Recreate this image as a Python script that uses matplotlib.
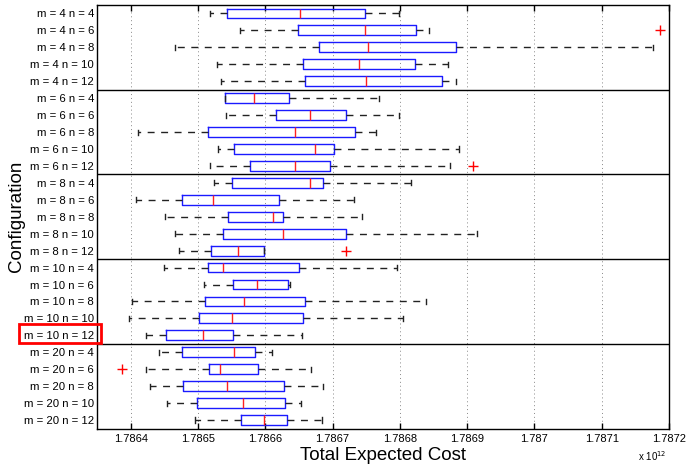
import matplotlib
matplotlib.use("Agg")
import matplotlib.pyplot as plt
from matplotlib.patches import Rectangle

plt.rcParams['font.family'] = ['Liberation Sans', 'DejaVu Sans']

labels = [
    "m = 4 n = 4", "m = 4 n = 6", "m = 4 n = 8", "m = 4 n = 10", "m = 4 n = 12",
    "m = 6 n = 4", "m = 6 n = 6", "m = 6 n = 8", "m = 6 n = 10", "m = 6 n = 12",
    "m = 8 n = 4", "m = 8 n = 6", "m = 8 n = 8", "m = 8 n = 10", "m = 8 n = 12",
    "m = 10 n = 4", "m = 10 n = 6", "m = 10 n = 8", "m = 10 n = 10", "m = 10 n = 12",
    "m = 20 n = 4", "m = 20 n = 6", "m = 20 n = 8", "m = 20 n = 10", "m = 20 n = 12",
]

# values in units of 1e12
whislo = [1.7865181, 1.7865625, 1.7864661, 1.7865284, 1.7865338,
          1.7865398, 1.7865414, 1.7864114, 1.7865295, 1.7865186,
          1.7865246, 1.7864076, 1.7864515, 1.7864655, 1.7864715,
          1.7864493, 1.7865089, 1.7864027, 1.7863978, 1.7864228,
          1.7864423, 1.7864228, 1.7864287, 1.7864536, 1.7864959]
q1 = [1.7865425, 1.7866492, 1.7866806, 1.7866557, 1.7866584,
      1.7865403, 1.7866161, 1.7865143, 1.7865533, 1.7865771,
      1.7865501, 1.7864769, 1.7865452, 1.7865376, 1.7865192,
      1.7865154, 1.7865522, 1.7865100, 1.7865013, 1.7864520,
      1.7864758, 1.7865170, 1.7864785, 1.7864981, 1.7865647]
med = [1.7866514, 1.7867483, 1.7867532, 1.7867397, 1.7867494,
       1.7865831, 1.7866665, 1.7866449, 1.7866741, 1.7866438,
       1.7866671, 1.7865230, 1.7866118, 1.7866259, 1.7865593,
       1.7865376, 1.7865885, 1.7865685, 1.7865511, 1.7865078,
       1.7865533, 1.7865333, 1.7865436, 1.7865668, 1.7865983]
q3 = [1.7867483, 1.7868242, 1.7868832, 1.7868231, 1.7868626,
      1.7866356, 1.7867196, 1.7867337, 1.7867028, 1.7866969,
      1.7866860, 1.7866210, 1.7866264, 1.7867201, 1.7865983,
      1.7866497, 1.7866340, 1.7866595, 1.7866557, 1.7865522,
      1.7865847, 1.7865896, 1.7866286, 1.7866297, 1.7866329]
whishi = [1.7867982, 1.7868437, 1.7871757, 1.7868713, 1.7868837,
          1.7867694, 1.7867982, 1.7867640, 1.7868881, 1.7868745,
          1.7868166, 1.7867326, 1.7867440, 1.7869152, 1.7865983,
          1.7867955, 1.7866362, 1.7868393, 1.7868052, 1.7866551,
          1.7866102, 1.7866681, 1.7866860, 1.7866535, 1.7866844]
fliers = [[], [1.7871860], [], [], [],
          [], [], [], [], [1.7869087],
          [], [], [], [], [1.7867207],
          [], [], [], [], [],
          [], [1.7863870], [], [], []]

xticks = [1.7864, 1.7865, 1.7866, 1.7867, 1.7868, 1.7869, 1.7870, 1.7871, 1.7872]

stats = []
for i in range(len(labels)):
    stats.append(dict(whislo=whislo[i], q1=q1[i], med=med[i], q3=q3[i],
                      whishi=whishi[i], fliers=fliers[i], label=labels[i]))

fig = plt.figure(figsize=(6.87, 4.68), dpi=100)
ax = fig.add_axes([97/687, 1-428.5/468, 572/687, 423.5/468])

positions = list(range(1, len(labels)+1))
ax.bxp(stats, positions=positions, vert=False, widths=0.58, capwidths=0.3,
       showfliers=True, patch_artist=False,
       boxprops=dict(color='#1a1aff', linewidth=1.0),
       medianprops=dict(color='#ff2020', linewidth=1.0),
       whiskerprops=dict(color='#222222', linewidth=1.0, linestyle=(0, (5, 4.7))),
       capprops=dict(color='#222222', linewidth=1.0),
       flierprops=dict(marker='+', markeredgecolor='red', markersize=7, markeredgewidth=1.0))

ax.set_ylim(25.5, 0.5)
ax.set_xlim(1.78635, 1.7872)
ax.set_yticks(positions)
ax.set_yticklabels(labels, fontsize=8.2)
ax.set_xticks(xticks)
ax.set_xticklabels(['%g' % t for t in xticks], fontsize=8)
ax.tick_params(axis='y', length=0, pad=2)
ax.tick_params(axis='x', direction='in', length=4, top=True, bottom=True, pad=4, width=1)
ax.grid(axis='x', linestyle=(0, (1, 3)), color='#888888', linewidth=0.7)
ax.set_axisbelow(True)
for s in ax.spines.values():
    s.set_linewidth(1.0)

for yb in [5.5, 10.5, 15.5, 20.5]:
    ax.axhline(yb, color='black', linewidth=1.0)

ax.set_xlabel('Total Expected Cost', fontsize=13.5, labelpad=2)
ax.set_ylabel('Configuration', fontsize=13.5)
ax.yaxis.set_label_coords(-0.125, 0.5)

fig.text(638/687, 1-461/468, r'x 10$^{12}$', fontsize=7, ha='left', va='baseline')

rect = Rectangle((19/687, 1-343/468), 82/687, 19/468, transform=fig.transFigure,
                 fill=False, edgecolor='red', linewidth=2, clip_on=False)
fig.patches.append(rect)

fig.savefig('out.png', dpi=100)
